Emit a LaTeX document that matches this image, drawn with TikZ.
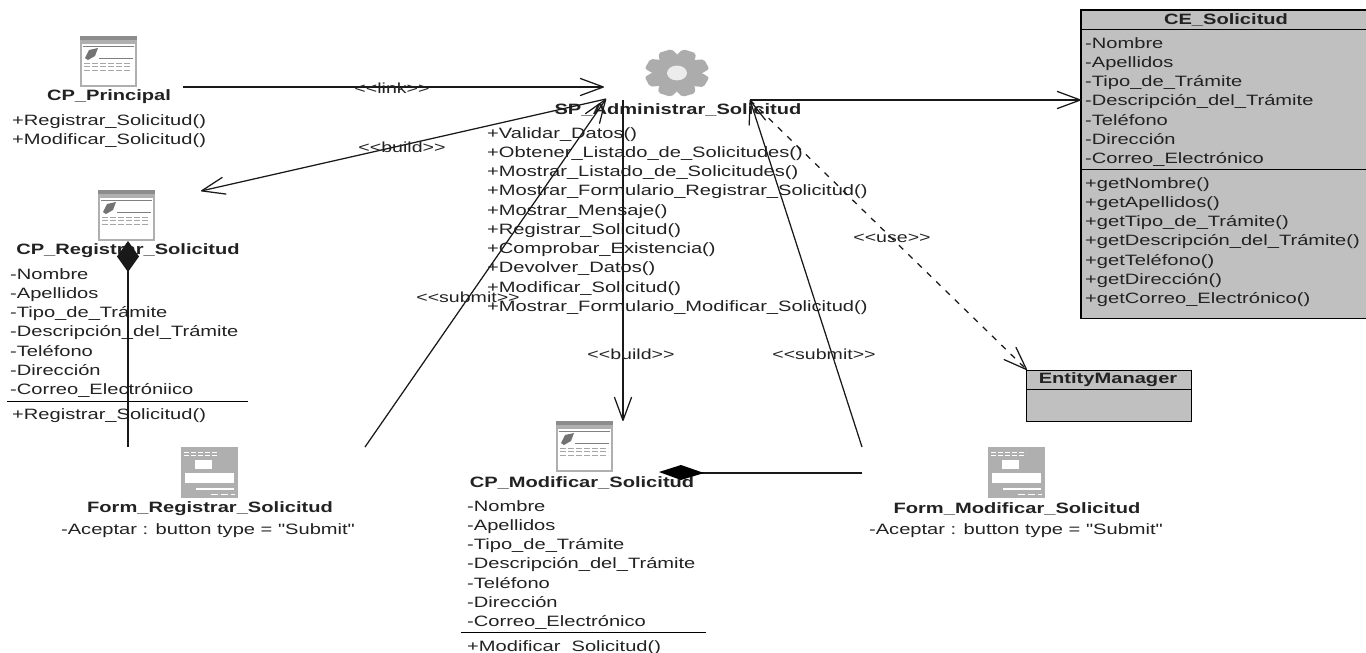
\documentclass[tikz,border=0pt]{standalone}
\usepackage{fontspec}
\setmainfont[FakeStretch=1.34,Ligatures=TeXOff]{Liberation Sans}
\usetikzlibrary{arrows.meta,calc}

\definecolor{boxgray}{RGB}{192,192,192}
\definecolor{icongray}{RGB}{175,175,175}
\definecolor{inkgray}{RGB}{34,34,34}

\tikzset{
  every node/.style={inner sep=0pt,text=inkgray},
  txt/.style={font=\fontsize{15}{19.25}\selectfont,align=left,anchor=north west},
  title/.style={font=\fontsize{15}{19.25}\selectfont\bfseries,anchor=center},
  note/.style={font=\fontsize{14.6}{16}\selectfont,anchor=center},
  link/.style={line width=1.25pt,black!90},
  open/.style={-{Straight Barb[length=23pt,width=17pt,round]}},
  filled/.style={-{Diamond[length=31pt,width=22pt]}},
  webpage/.pic={
    \fill[icongray] (0,0) rectangle (57,51);
    \fill[white] (2,8) rectangle (55,49);
    \fill[black!45] (0,0) rectangle (57,4);
    \draw[gray,line width=.6pt] (3,10) -- (54,10);
    \fill[black!55] (5,22) -- (9,14) -- (18,12) -- (15,20) -- (8,24) -- cycle;
    \draw[gray,line width=.7pt] (19,22) -- (53,22);
    \foreach \ypos in {27,30,34}
      \draw[gray!70,line width=.8pt,dash pattern=on 6pt off 2pt] (4,\ypos) -- (52,\ypos);
  },
  formpage/.pic={
    \fill[icongray] (0,0) rectangle (57,51);
    \fill[white] (14,13) rectangle (31,22);
    \fill[white] (4,26) rectangle (53,36);
    \fill[white] (15,41) rectangle (53,43);
    \foreach \ypos in {5,8}
      \draw[white,line width=.7pt,dash pattern=on 5pt off 2pt] (3,\ypos) -- (38,\ypos);
    \draw[white,line width=1pt,dash pattern=on 7pt off 3pt] (30,47) -- (54,47);
  },
  gearwheel/.pic={
    \begin{scope}[yscale=.74]
      \fill[gray!65] (0,0) circle (25);
      \foreach \ang in {0,45,...,315}
        \fill[gray!65,rotate=\ang+22,rounded corners=2pt] (-7,-32) -- (7,-32) -- (10,-22) -- (-10,-22) -- cycle;
      \fill[white!85!gray] (0,0) circle (10);
    \end{scope}
  }
}

\begin{document}
\begin{tikzpicture}[x=1pt,y=-1pt]
\useasboundingbox (0,0) rectangle (1366,653);

\coordinate(PrinOut) at (183,87);
\coordinate(ServIn) at (604,87);
\coordinate(ServLeft) at (606,99);
\coordinate(ServMid) at (623,100);
\coordinate(ServRight) at (750,100);
\coordinate(RegIn) at (201,191);
\coordinate(ModIn) at (623,421);
\coordinate(RegDiam) at (128,241);
\coordinate(ModDiam) at (659,472);
\coordinate(FormRegUp) at (128,447);
\coordinate(FormRegOut) at (365,447);
\coordinate(FormModLeft) at (862,473);
\coordinate(FormModOut) at (862,447);
\coordinate(CeIn) at (1081,100);
\coordinate(EntIn) at (1027,370);

% entity boxes
\node[fill=boxgray,anchor=north west,minimum width=285pt,minimum height=308pt] (CeBox) at (1081,10) {};
\draw[line width=1.2pt] (CeBox.north east) -- (CeBox.north west) -- (CeBox.south west) -- (CeBox.south east);
\draw[line width=.8pt] (1081,29) -- (1366,29) (1081,169) -- (1366,169);
\node[title] (CeTitle) at (1226,20) {CE\_Solicitud};
\node[txt] (CeAttrs) at (1085,37) {-Nombre\\-Apellidos\\-Tipo\_de\_Trámite\\-Descripción\_del\_Trámite\\-Teléfono\\-Dirección\\-Correo\_Electrónico};
\node[txt] (CeOps) at (1085,177) {+getNombre()\\+getApellidos()\\+getTipo\_de\_Trámite()\\+getDescripción\_del\_Trámite()\\+getTeléfono()\\+getDirección()\\+getCorreo\_Electrónico()};

\node[fill=boxgray,draw,line width=1.2pt,anchor=north west,minimum width=165pt,minimum height=51pt] (EntBox) at (1026,370) {};
\draw[line width=.8pt] (1026,389) -- (1191,389);
\node[title] (EntTitle) at (1108,380) {EntityManager};

% client pages
\pic at (80,36) {webpage};
\node[title] (PrinTitle) at (109,97) {CP\_Principal};
\node[txt] (PrinOps) at (12,114) {+Registrar\_Solicitud()\\+Modificar\_Solicitud()};

\pic at (98,190) {webpage};
\node[title] (RegTitle) at (128,251) {CP\_Registrar\_Solicitud};
\node[txt] (RegAttrs) at (10,268) {-Nombre\\-Apellidos\\-Tipo\_de\_Trámite\\-Descripción\_del\_Trámite\\-Teléfono\\-Dirección\\-Correo\_Electróniico};
\draw[line width=.9pt] (7,401) -- (248,401);
\node[txt] (RegOps) at (12,408) {+Registrar\_Solicitud()};

\pic at (556,421) {webpage};
\node[title] (ModTitle) at (582,483) {CP\_Modificar\_Solicitud};
\node[txt] (ModAttrs) at (467,500) {-Nombre\\-Apellidos\\-Tipo\_de\_Trámite\\-Descripción\_del\_Trámite\\-Teléfono\\-Dirección\\-Correo\_Electrónico};
\draw[line width=.9pt] (461,632) -- (706,632);
\node[txt] (ModOps) at (467,640) {+Modificar\_Solicitud()};

% forms
\pic at (181,447) {formpage};
\node[title] (FormRegTitle) at (210,509) {Form\_Registrar\_Solicitud};
\node[txt,anchor=center] (FormRegAttr) at (208,531) {-Aceptar : button type = "Submit"};

\pic at (988,447) {formpage};
\node[title] (FormModTitle) at (1017,509) {Form\_Modificar\_Solicitud};
\node[txt,anchor=center] (FormModAttr) at (1016,531) {-Aceptar : button type = "Submit"};

% server page
\pic at (677,73) {gearwheel};
\node[title] (ServTitle) at (678,110) {SP\_Administrar\_Solicitud};
\node[txt] (ServOps) at (487,127) {+Validar\_Datos()\\+Obtener\_Listado\_de\_Solicitudes()\\+Mostrar\_Listado\_de\_Solicitudes()\\+Mostrar\_Formulario\_Registrar\_Solicitud()\\+Mostrar\_Mensaje()\\+Registrar\_Solicitud()\\+Comprobar\_Existencia()\\+Devolver\_Datos()\\+Modificar\_Solicitud()\\+Mostrar\_Formulario\_Modificar\_Solicitud()};

% connectors
\draw[link,open] (PrinOut) -- (ServIn);
\draw[link,open] (ServLeft) -- (RegIn);
\draw[link,open] (ServMid) -- (ModIn);
\draw[link,open] (FormRegOut) -- (ServLeft);
\draw[link,open] (FormModOut) -- (ServRight);
\draw[link,open] (ServRight) -- (CeIn);
\draw[link,open,dash pattern=on 6pt off 7pt] (ServRight) -- (EntIn);
\draw[link,filled] (FormRegUp) -- (RegDiam);
\draw[link] (FormModLeft) -- (700,473);
\fill[black] (ModDiam) -- (681,465) -- (704,473) -- (681,480) -- cycle;

% labels
\node[note] (LinkLab) at (392,88) {<<link>>};
\node[note] (BuildLabA) at (402,147) {<<build>>};
\node[note] (SubmitLabA) at (468,297) {<<submit>>};
\node[note] (BuildLabB) at (631,354) {<<build>>};
\node[note] (SubmitLabB) at (824,354) {<<submit>>};
\node[note] (UseLab) at (892,238) {<<use>>};
\end{tikzpicture}
\end{document}
